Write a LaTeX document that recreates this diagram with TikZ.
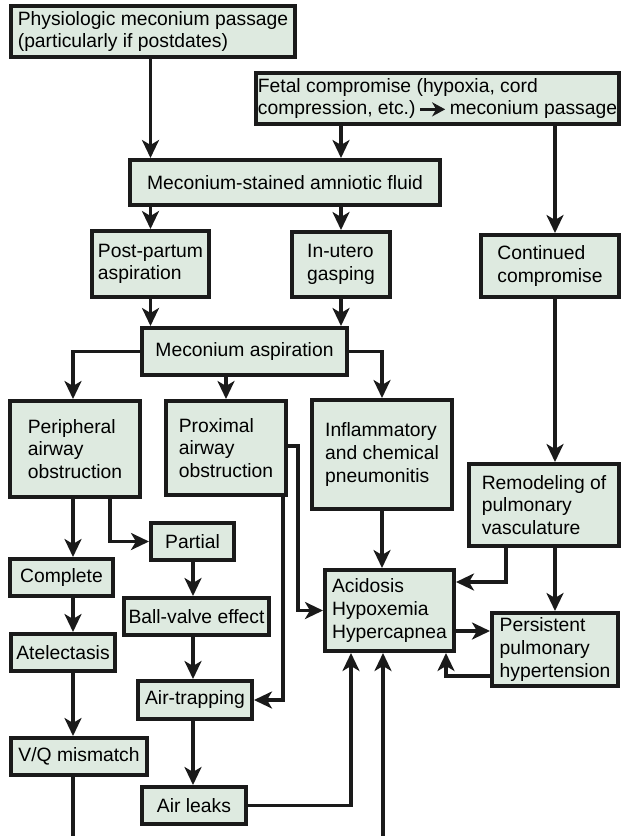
\documentclass[tikz,border=0pt]{standalone}
\usepackage{fontspec}
\setmainfont{Liberation Sans}
\usetikzlibrary{arrows.meta}
\definecolor{boxfill}{RGB}{222,234,224}
\definecolor{ink}{RGB}{26,26,26}
\newcommand\mybox[6]{\node[box,minimum width={(#4-#2-3.6)*1pt},minimum height={(#5-#3-3.6)*1pt}] (#1) at ({(#2+#4)/2},{(#3+#5)/2}) {#6};}
\newcommand\inarrow{\,\tikz[x=1pt,y=1pt,baseline=-5.5pt]\draw[draw=ink,line width=2.8pt,-{Stealth[length=13pt,width=14pt,inset=4pt]}] (0,0) -- (25,0);\,}
\begin{document}
\begin{tikzpicture}[x=1pt,y=-1pt,
  box/.style={draw=ink,fill=boxfill,line width=3.6pt,align=left,inner sep=2pt,font=\fontsize{19.3}{22.7}\selectfont},
  arr/.style={draw=ink,line width=3.1pt,-{Stealth[length=18pt,width=17pt,inset=5pt]}},
  ln/.style={draw=ink,line width=3.1pt}]
\useasboundingbox (0,0) rectangle (627,836);
\fill[white] (0,0) rectangle (627,836);
\mybox{phys}{9}{4}{297}{59}{Physiologic meconium passage\\(particularly if postdates)}
\mybox{fetal}{254}{71}{621}{126}{Fetal compromise (hypoxia, cord\\compression, etc.)\inarrow meconium passage}
\mybox{msaf}{128}{158}{442}{207}{Meconium-stained amniotic fluid}
\mybox{post}{90}{229}{211}{299}{Post-partum\\aspiration}
\mybox{inutero}{290}{230}{392}{299}{In-utero\\gasping}
\mybox{cont}{479}{233}{621}{299}{Continued\\compromise}
\mybox{mecasp}{140}{326}{349}{377}{Meconium aspiration}
\mybox{periph}{8}{399}{142}{499}{Peripheral\\airway\\obstruction}
\mybox{prox}{164}{399}{288}{497}{Proximal\\airway\\obstruction}
\mybox{inflam}{310}{398}{454}{511}{Inflammatory\\and chemical\\pneumonitis}
\mybox{remod}{467}{462}{621}{548}{Remodeling of\\pulmonary\\vasculature}
\mybox{partial}{149}{521}{236}{562}{Partial}
\mybox{complete}{8}{557}{115}{598}{Complete}
\mybox{ballvalve}{122}{596}{271}{637}{Ball-valve effect}
\mybox{atel}{9}{632}{117}{673}{Atelectasis}
\mybox{acid}{323}{568}{456}{653}{Acidosis\\Hypoxemia\\Hypercapnea}
\mybox{pph}{490}{611}{620}{688}{Persistent\\pulmonary\\hypertension}
\mybox{airtrap}{136}{679}{254}{721}{Air-trapping}
\mybox{vq}{9}{736}{149}{777}{V/Q mismatch}
\mybox{airleak}{140}{785}{248}{826}{Air leaks}
\coordinate (cL) at (73,0);
\coordinate (cM) at (193,0);
\coordinate (bot) at (0,836);
\coordinate (pa) at (110,0);
\coordinate (p1) at (298,446);
\coordinate (p2) at (283,0);
\coordinate (p3) at (506,582);
\coordinate (p4) at (0,631);
\coordinate (p5) at (446,676);
\coordinate (p6) at (351,0);
\coordinate (p7) at (383,836);
\draw[arr] (phys.south -| post.north) -- (msaf.north -| post.north);
\draw[arr] (fetal.south -| inutero.north) -- (msaf.north -| inutero.north);
\draw[arr] (fetal.south -| pph.north) -- (cont.north -| pph.north);
\draw[arr] (msaf.south -| post.north) -- (post.north);
\draw[arr] (msaf.south -| inutero.north) -- (inutero.north);
\draw[arr] (post.south) -- (mecasp.north -| post.south);
\draw[arr] (inutero.south) -- (mecasp.north -| inutero.south);
\draw[arr] (cont.south -| pph.north) -- (remod.north -| pph.north);
\draw[arr] (mecasp.west) -| (periph.north -| cL);
\draw[arr] (mecasp.south -| prox.north) -- (prox.north);
\draw[arr] (mecasp.east) -| (inflam.north);
\draw[arr] (periph.south -| cL) -- (complete.north -| cL);
\draw[arr] (periph.south -| pa) |- (partial.west);
\draw[arr] (complete.south -| cL) -- (atel.north -| cL);
\draw[arr] (atel.south -| cL) -- (vq.north -| cL);
\draw[ln] (vq.south -| cL) -- (bot -| cL);
\draw[arr] (partial.south -| cM) -- (ballvalve.north -| cM);
\draw[arr] (ballvalve.south -| cM) -- (airtrap.north -| cM);
\draw[arr] (airtrap.south -| cM) -- (airleak.north -| cM);
\draw[arr] (prox.east |- p1) -- (p1) |- (acid.west);
\draw[arr] (prox.south -| p2) |- (airtrap.east);
\draw[arr] (inflam.south) -- (acid.north -| inflam.south);
\draw[arr] (remod.south -| p3) |- (acid.east |- p3);
\draw[arr] (remod.south -| pph.north) -- (pph.north);
\draw[arr] (acid.east |- p4) -- (pph.west |- p4);
\draw[arr] (pph.west |- p5) -| (acid.south -| p5);
\draw[arr] (airleak.east) -| (acid.south -| p6);
\draw[arr] (p7) -- (acid.south -| p7);
\end{tikzpicture}
\end{document}
